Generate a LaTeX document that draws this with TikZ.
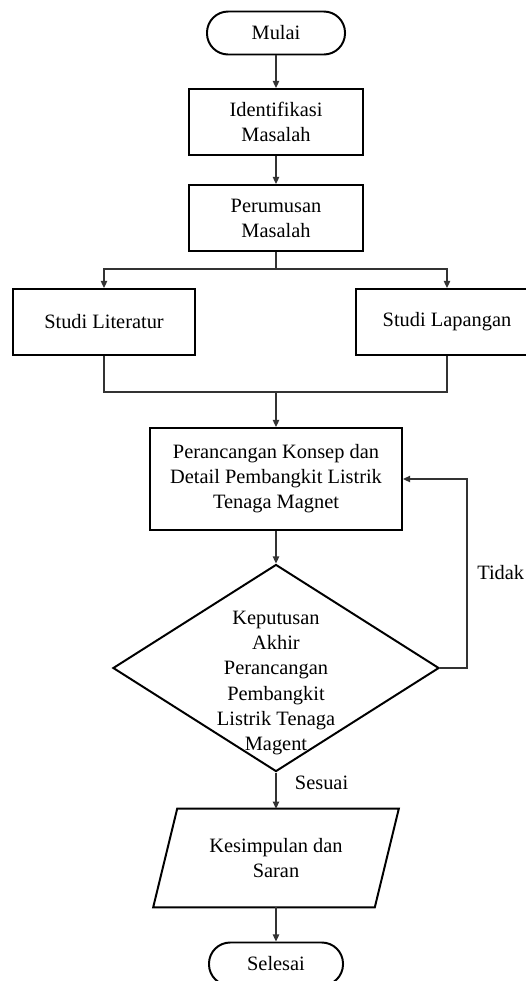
\documentclass[tikz,border=0pt]{standalone}
\usepackage{fontspec}
\setmainfont{Liberation Serif}
\usetikzlibrary{shapes.geometric,arrows.meta,calc}
\begin{document}
\begin{tikzpicture}[x=0.025cm,y=-0.025cm,
		font=\fontsize{14.5}{17.8}\selectfont,
		box/.style={draw, line width=1.4pt, align=center, minimum height=1.65cm, inner sep=2pt},
		term/.style={draw, line width=1.4pt, rounded corners=0.53cm, minimum width=3.45cm, minimum height=1.075cm},
		line/.style={draw=black!80, line width=0.9pt},
		arr/.style={line, -{Triangle[length=5pt,width=4.5pt]}}]
		\useasboundingbox (0,0) rectangle (526,981);

		\node[term] (mulai) at (276,33) {Mulai};
		\node[box, minimum width=4.35cm] (ident) at (276,122) {Identifikasi\\Masalah};
		\node[box, minimum width=4.35cm] (rumus) at (276,218) {Perumusan\\Masalah};
		\node[box, minimum width=4.55cm] (lit) at (104,322) {Studi Literatur};
		\node[box, minimum width=4.55cm] (lap) at (447,322) {Studi Lapangan};
		\node[box, minimum width=6.3cm, minimum height=2.55cm] (rancang) at (276,479) {Perancangan Konsep dan\\Detail Pembangkit Listrik\\Tenaga Magnet};
		\node[diamond, draw, line width=1.4pt, minimum width=8.15cm, minimum height=5.175cm, inner sep=0pt] (dec) at (276,668) {};
		\node[align=center] (dectext) at (276,683) {Keputusan\\Akhir\\Perancangan\\Pembangkit\\Listrik Tenaga\\Magent};
		\node[minimum width=5.525cm, minimum height=2.45cm, align=center, inner sep=0pt] (kes) at (276,858) {Kesimpulan dan\\Saran};
		\draw[line width=1.4pt] ($(kes.north west)+(12,0)$) -- ($(kes.north east)+(12,0)$) -- ($(kes.south east)+(-12,0)$) -- ($(kes.south west)+(-12,0)$) -- cycle;
		\node[term, minimum width=3.35cm] (selesai) at (276,964) {Selesai};

		\coordinate (split) at (276,269);
		\coordinate (join) at (276,392);
		\coordinate (back) at (467,668);

		\draw[arr] (mulai) -- (ident);
		\draw[arr] (ident) -- (rumus);
		\draw[line] (rumus.south) -- (split);
		\draw[arr] (split) -| (lit.north);
		\draw[arr] (split) -| (lap.north);
		\draw[line] (lit.south) |- (join);
		\draw[line] (lap.south) |- (join);
		\draw[arr] (join) -- (rancang.north);
		\draw[arr] (rancang) -- (dec.north);
		\draw[arr] (dec.east) -- (back) |- (rancang.east);
		\draw[arr] (dec.south) -- (kes.north);
		\draw[arr] (kes.south) -- (selesai.north);

		\node[anchor=west, inner sep=0pt] (tidak) at (477,573) {Tidak};
		\node[anchor=west] (sesuai) at (290,783) {Sesuai};
	\end{tikzpicture}
\end{document}
